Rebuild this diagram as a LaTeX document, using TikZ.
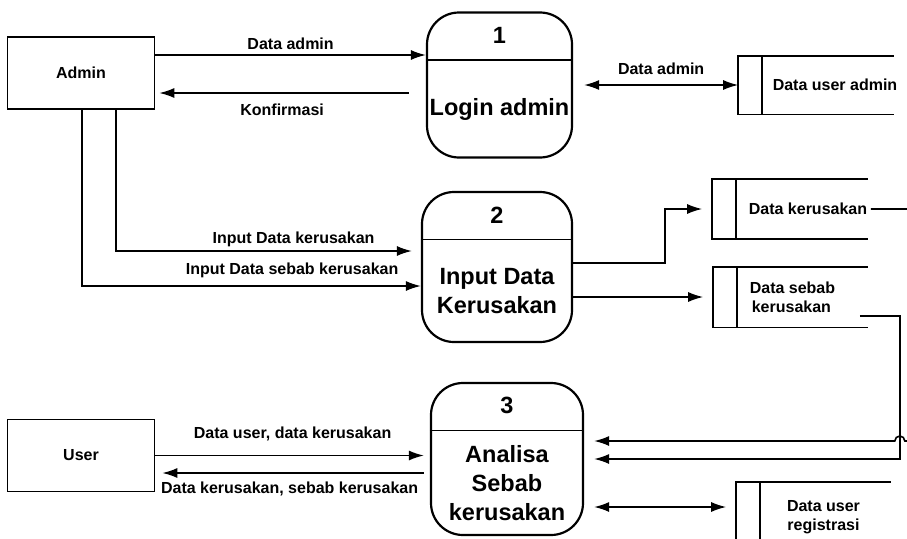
\documentclass[tikz,border=0pt]{standalone}
\usepackage{fontspec}
\setmainfont{Liberation Sans}
\usetikzlibrary{arrows.meta}
\usetikzlibrary{calc}
\usetikzlibrary{positioning}

\begin{document}
\begin{tikzpicture}
	[
	x=1pt, y=1pt,
	> = {Latex[length=15pt,width=10pt]},
	line width=1.6pt,
	entity/.style = {draw, minimum width=147pt, minimum height=72pt, font=\fontsize{16}{18}\selectfont\bfseries},
	proc/.style = {draw, line width=2.2pt, rounded corners=32pt},
	store/.style = {inner sep=0pt},
	lbl/.style = {font=\fontsize{16}{19}\selectfont\bfseries, inner sep=2pt},
	ptext/.style = {font=\fontsize{23.5}{29}\selectfont\bfseries, align=center, inner sep=0pt}
	]
	\useasboundingbox (0,0) rectangle (907,-538);
	\clip (0,0) rectangle (907,-538);

	% external entities
	\node[entity] (admin) at (81,-73) {Admin};
	\node[entity] (user) at (81,-455.5) {User};

	% processes
	\node[proc, minimum width=145pt, minimum height=145pt] (p1) at (499.5,-85) {};
	\node[proc, minimum width=150pt, minimum height=150pt] (p2) at (497,-267) {};
	\node[proc, minimum width=152pt, minimum height=152pt] (p3) at (507,-459) {};
	\foreach \p/\n in {p1/1,p2/2,p3/3}{
		\draw ([yshift=-48.5pt]\p.north west) -- ([yshift=-48.5pt]\p.north east);
		\node[ptext] (\p-num) at ([yshift=-24pt]\p.north) {\n};
	}
	\node[ptext] (p1-t) at ([yshift=-24pt]p1.center) {Login admin};
	\node[ptext] (p2-t) at ([yshift=-24pt]p2.center) {Input Data\\Kerusakan};
	\node[ptext] (p3-t) at ([yshift=-24pt]p3.center) {Analisa\\Sebab\\kerusakan};

	% data stores
	\node[store, minimum width=154pt, minimum height=57pt] (s1) at (816,-85) {};
	\node[store, minimum width=154pt, minimum height=58pt] (s2) at (790,-209) {};
	\node[store, minimum width=153pt, minimum height=59pt] (s3) at (790.5,-297) {};
	\node[store, minimum width=153pt, minimum height=70pt] (s4) at (813.5,-518) {};
	\foreach \s in {s1,s2,s3,s4}{
		\draw (\s.north east) -- (\s.north west) -- (\s.south west) -- (\s.south east);
		\draw ([xshift=24pt]\s.north west) -- ([xshift=24pt]\s.south west);
	}
	\node[lbl] (s1-t) at ([xshift=19pt]s1.center) {Data user admin};
	\node[lbl] (s2-t) at ([xshift=18pt]s2.center) {Data kerusakan};
	\node[lbl, align=left] (s3-t) at ([xshift=2pt]s3.center) {Data sebab\\\hspace{2pt}kerusakan};
	\node[lbl, align=center] (s4-t) at ([xshift=10pt,yshift=1pt]s4.center) {Data user\\registrasi};

	% flows
	\draw[->] ([yshift=18pt]admin.east) coordinate (d0) -- (d0 -| p1.west) node[lbl, midway, above=3pt] {Data admin};
	\draw[->, shorten >=4pt] ([xshift=-17pt,yshift=-8pt]p1.west) coordinate (k0) -- (k0 -| admin.east) node[lbl, midway, below=8pt] {Konfirmasi};
	\draw[<->] ([xshift=11pt]p1.east) -- (s1.west) node[lbl, midway, above=8pt] {Data admin};

	\draw[->] ([xshift=35pt]admin.south) |- ([xshift=-9pt,yshift=16pt]p2.west) node[lbl, pos=0.8, above=1pt] {Input Data kerusakan};
	\draw[->] ([xshift=1pt]admin.south) |- ([yshift=-19pt]p2.west) node[lbl, pos=0.81, above=5pt] {Input Data sebab kerusakan};

	\draw[->] ([yshift=4pt]p2.east) -| ([xshift=-47pt]s2.west) -- ([xshift=-10pt]s2.west);
	\draw[->] ([yshift=-30pt]p2.east) -- ([xshift=-10pt]s3.west);

	\draw[->] ([xshift=-8pt,yshift=-19pt]s3.east) -- ++(40pt,0) coordinate (bend) |- ([xshift=10pt]p3.east);
	\coordinate (hop) at ($(p3.east -| bend)+(0,18pt)$);
	\draw[->] ([xshift=3pt]s2.east) -- ++(50pt,0) |- ([xshift=5pt]hop) arc[start angle=0, end angle=180, radius=5pt] -- ([xshift=10pt,yshift=18pt]p3.east);

	\draw[->, shorten >=6pt] (user.east) coordinate (u0) -- (u0 -| p3.west) node[lbl, midway, above=12pt] {Data user, data kerusakan};
	\draw[->, shorten >=7pt] ([xshift=-6pt,yshift=-14pt]p3.west) coordinate (u1) -- (u1 -| user.east) node[lbl, midway, below=6pt] {Data kerusakan, sebab kerusakan};
	\draw[<->, shorten >=10pt] ([xshift=10pt,yshift=-48pt]p3.east) coordinate (r0) -- (r0 -| s4.west);
\end{tikzpicture}
\end{document}
